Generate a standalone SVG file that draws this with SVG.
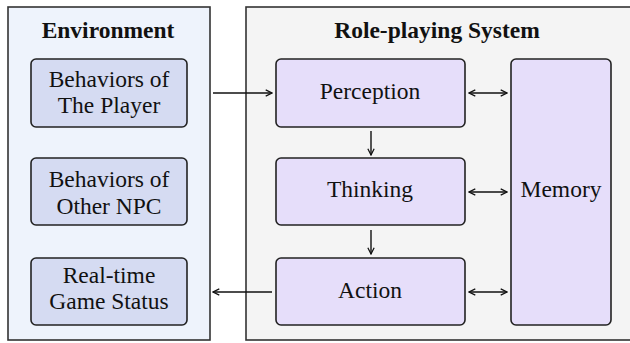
<svg xmlns="http://www.w3.org/2000/svg" width="630" height="343" viewBox="0 0 630 343">
<defs>
<marker id="ah" viewBox="0 0 10 10" refX="9" refY="5" markerWidth="9" markerHeight="9" markerUnits="userSpaceOnUse" orient="auto-start-reverse">
<path d="M2,1.5 L9,5 L2,8.5" fill="none" stroke="#111" stroke-width="1.4"/>
</marker>
<style>
text{font-size:23.5px;fill:#111;text-anchor:middle}
.h{font-weight:bold}
.env{fill:#d5dbf2;stroke:#222;stroke-width:1.6}
.rps{fill:#e6defa;stroke:#222;stroke-width:1.6}
.c{stroke:#111;stroke-width:1.4;fill:none}
</style>
</defs>
<rect x="8" y="7" width="202" height="333" fill="#eef3fc" stroke="#333" stroke-width="1.6"/>
<rect x="246" y="7" width="390" height="333" fill="#f4f4f4" stroke="#333" stroke-width="1.6"/>
<g font-family="Liberation Serif, DejaVu Serif, serif">
<text class="h" x="108" y="38">Environment</text>
<text class="h" x="437" y="38">Role-playing System</text>
<g id="player"><rect class="env" x="31" y="59" width="156" height="68" rx="5"/><text x="109" y="87">Behaviors of</text><text x="109" y="113">The Player</text></g>
<g id="npc"><rect class="env" x="31" y="158" width="156" height="67" rx="5"/><text x="109" y="187">Behaviors of</text><text x="109" y="214">Other NPC</text></g>
<g id="status"><rect class="env" x="31" y="258" width="156" height="67" rx="5"/><text x="109" y="283">Real-time</text><text x="109" y="309">Game Status</text></g>
<g id="perception"><rect class="rps" x="276" y="59" width="189" height="68" rx="5"/><text x="370" y="99">Perception</text></g>
<g id="thinking"><rect class="rps" x="276" y="158" width="189" height="67" rx="5"/><text x="370" y="197">Thinking</text></g>
<g id="action"><rect class="rps" x="276" y="258" width="189" height="67" rx="5"/><text x="370" y="298">Action</text></g>
<g id="memory"><rect class="rps" x="511" y="59" width="100" height="266" rx="5"/><text x="561" y="197">Memory</text></g>
</g>
<g id="connectors">
<line class="c" x1="213" y1="93" x2="272" y2="93" marker-end="url(#ah)"/>
<line class="c" x1="272" y1="292" x2="213" y2="292" marker-end="url(#ah)"/>
<line class="c" x1="371" y1="131" x2="371" y2="155" marker-end="url(#ah)"/>
<line class="c" x1="371" y1="230" x2="371" y2="254" marker-end="url(#ah)"/>
<line class="c" x1="469" y1="93" x2="507" y2="93" marker-start="url(#ah)" marker-end="url(#ah)"/>
<line class="c" x1="469" y1="192" x2="507" y2="192" marker-start="url(#ah)" marker-end="url(#ah)"/>
<line class="c" x1="469" y1="292" x2="507" y2="292" marker-start="url(#ah)" marker-end="url(#ah)"/>
</g>
</svg>
